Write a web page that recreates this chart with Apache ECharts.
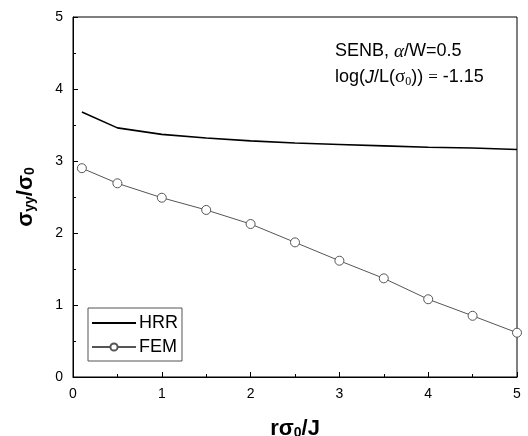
<!DOCTYPE html>
<html><head><meta charset="utf-8">
<script src="https://cdn.jsdelivr.net/npm/echarts@6/dist/echarts.min.js"></script>
<style>html,body{margin:0;padding:0;background:#fff}#c{width:528px;height:436px}</style>
</head><body><div id="c"></div>
<script>
var xValues = [0.1, 0.5, 1, 1.5, 2, 2.5, 3, 3.5, 4, 4.5, 5];
var hrrValues = [3.68, 3.46, 3.37, 3.32, 3.28, 3.25, 3.23, 3.21, 3.19, 3.18, 3.16];
var femValues = [2.90, 2.69, 2.49, 2.32, 2.125, 1.87, 1.615, 1.37, 1.08, 0.85, 0.615];
var seriesNames = ['HRR', 'FEM'];

function pairs(xs, ys) { return xs.map(function (x, i) { return [x, ys[i]]; }); }

var chart = echarts.init(document.getElementById('c'), null, {renderer: 'canvas'});
var FONT = 'Liberation Sans, Arial, sans-serif';
chart.setOption({
  animation: false,
  grid: {left: 73, right: 11, top: 17, bottom: 59, show: true, borderColor: '#000', borderWidth: 1,
         containLabel: false, outerBoundsMode: 'none'},
  xAxis: {
    type: 'value', min: 0, max: 5, interval: 1,
    axisLine: {lineStyle: {color: '#000', width: 1}},
    axisTick: {inside: true, length: 5, lineStyle: {color: '#000'}},
    minorTick: {show: true, splitNumber: 2, length: 3, lineStyle: {color: '#000'}},
    splitLine: {show: false},
    axisLabel: {color: '#000', fontSize: 14, fontFamily: FONT, margin: 10},
    name: '{b|rσ}{s|0}{b|/J}', nameLocation: 'middle', nameGap: 40,
    nameTextStyle: {rich: {
      b: {fontSize: 22, fontWeight: 'bold', fontFamily: FONT, color: '#000'},
      s: {fontSize: 14, fontWeight: 'bold', fontFamily: FONT, color: '#000', verticalAlign: 'bottom', padding: [9, 0, 0, 0]}
    }}
  },
  yAxis: {
    type: 'value', min: 0, max: 5, interval: 1,
    axisLine: {show: true, lineStyle: {color: '#000', width: 1}},
    axisTick: {show: true, inside: true, length: 5, lineStyle: {color: '#000'}},
    minorTick: {show: true, splitNumber: 2, length: 3, lineStyle: {color: '#000'}},
    splitLine: {show: false},
    axisLabel: {color: '#000', fontSize: 14, fontFamily: FONT, margin: 10},
    name: '{b|σ}{s|yy}{b|/σ}{s|0}', nameLocation: 'middle', nameGap: 36,
    nameTextStyle: {rich: {
      b: {fontSize: 22, fontWeight: 'bold', fontFamily: FONT, color: '#000'},
      s: {fontSize: 14, fontWeight: 'bold', fontFamily: FONT, color: '#000', verticalAlign: 'bottom', padding: [9, 0, 0, 0]}
    }}
  },
  legend: {
    left: 88, top: 308, orient: 'vertical', itemWidth: 44, itemHeight: 9, itemGap: 6,
    padding: [6, 4, 5, 3], borderColor: '#555', borderWidth: 1, borderRadius: 0,
    textStyle: {fontSize: 18, fontFamily: FONT, color: '#000', padding: [0, 0, 0, -2]},
    data: [
      {name: seriesNames[0], itemStyle: {opacity: 0}},
      {name: seriesNames[1]}
    ]
  },
  series: [
    {name: seriesNames[0], type: 'line', data: pairs(xValues, hrrValues), symbol: 'none',
     lineStyle: {color: '#000', width: 1.6}, itemStyle: {color: '#000'}},
    {name: seriesNames[1], type: 'line', data: pairs(xValues, femValues), symbol: 'circle', symbolSize: 9,
     lineStyle: {color: '#555', width: 1}, itemStyle: {color: '#fff', borderColor: '#555', borderWidth: 1}}
  ],
  graphic: [
    {type: 'text', left: 335, top: 42, style: {
      text: '{n|SENB, }{i|α}{n|/W=0.5}',
      rich: {n: {fontSize: 18, fontFamily: FONT, fill: '#000'}, i: {fontSize: 19, fontFamily: 'Liberation Serif, serif', fontStyle: 'italic', fill: '#000'}}
    }},
    {type: 'text', left: 335, top: 68, style: {
      text: '{n|log(}{j|J}{n|/L(}{g|σ}{z|0}{n|)) }{e|=}{n| -1.15}',
      rich: {n: {fontSize: 18, fontFamily: FONT, fill: '#000'},
             j: {fontSize: 18, fontFamily: FONT, fontStyle: 'italic', fill: '#000'},
             g: {fontSize: 19, fontFamily: 'Liberation Serif, serif', fill: '#000'},
             z: {fontSize: 12, fontFamily: 'Liberation Serif, serif', fill: '#000', verticalAlign: 'bottom', padding: [8, 0, 0, 0]},
             e: {fontSize: 17, fontFamily: 'Liberation Serif, serif', fill: '#000'}}
    }}
  ]
});
</script></body></html>
